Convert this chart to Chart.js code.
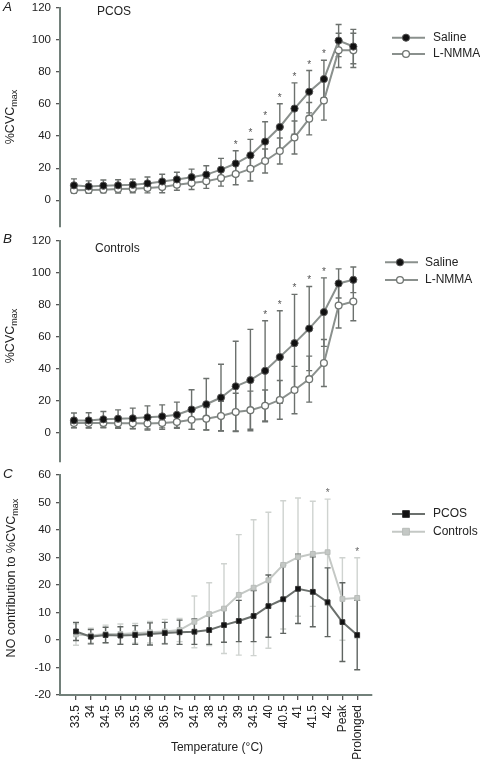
<!DOCTYPE html>
<html><head><meta charset="utf-8">
<script src="https://cdn.jsdelivr.net/npm/chart.js@4.4.0/dist/chart.umd.min.js"></script>
<style>
body{margin:0;background:#fff;width:480px;height:760px;overflow:hidden;position:relative;font-family:"Liberation Sans",Arial,sans-serif;color:#222;}
canvas{position:absolute;left:0;}
.t{position:absolute;white-space:nowrap;font-size:12px;line-height:1;}
.lt{position:absolute;white-space:nowrap;font-size:13.5px;font-style:italic;line-height:1;}
.yl{position:absolute;white-space:nowrap;font-size:12.5px;line-height:1;transform:translate(-50%,-50%) rotate(-90deg);}
.yl sub{font-size:9px;vertical-align:-3px;}
</style></head><body>
<canvas id="cA" width="480" height="245" style="top:-4px"></canvas>
<canvas id="cB" width="480" height="245" style="top:229px"></canvas>
<canvas id="cC" width="480" height="297" style="top:463px"></canvas>
<div class="lt" style="left:3px;top:0px">A</div>
<div class="lt" style="left:3px;top:232px">B</div>
<div class="lt" style="left:3px;top:467px">C</div>
<div class="t" style="left:97px;top:5px">PCOS</div>
<div class="t" style="left:95px;top:242px">Controls</div>
<div class="yl" style="left:11px;top:117px">%CVC<sub>max</sub></div>
<div class="yl" style="left:11px;top:336px">%CVC<sub>max</sub></div>
<div class="yl" style="left:12px;top:578px">NO contribution to %CVC<sub>max</sub></div>
<div class="t" style="left:217px;top:747px;transform:translate(-50%,-50%)">Temperature (°C)</div>
<script>
// ---- data ----
const categories = ['33.5','34','34.5','35','35.5','36','36.5','37','34.5','38','34.5','39','34.5','40','40.5','41','41.5','42','Peak','Prolonged'];

const pcosSaline    = [9.3,8.6,9.1,9.3,9.7,10.5,11.7,13,14.4,16,19.1,22.9,28,36.6,45.7,57.2,67.7,75.6,99.6,95.9];
const pcosSalineSE  = [4,3.5,3.5,3.5,3.5,4,4.5,4.5,5,5.5,7,8,10,12.4,14.5,16,13.2,11.7,10,10.7];
const pcosLNMMA     = [6.2,6.4,6.6,7,7.2,7.6,8.2,9.7,10.7,11.9,13.8,16.3,19.6,24.5,30.7,39.1,50.9,62.2,93.5,93.5];
const pcosLNMMASE   = [1.7,2,2,2.5,2.5,3,3.5,3.5,4,4.5,5,6.6,7.6,7.5,8.1,10.3,10.1,12.2,10.7,10.7];

const ctrlSaline    = [7.8,7.8,8.5,8.9,9.1,9.7,10.3,11.3,14.6,17.9,22.1,29.1,33,38.8,47.4,56.1,65.2,75.5,93.4,95.7];
const ctrlSalineSE  = [4.6,4.8,4.9,5.5,6.4,7.2,7.2,7.9,12.4,16.1,20.8,28.2,31.7,31.3,28.9,30.5,26.3,21.4,9.1,8];
const ctrlLNMMA     = [6.2,6.2,6.2,6,6,5.8,6.2,6.8,8.2,8.9,10.5,13,14.2,16.9,20.6,26.8,33.6,43.7,79.6,82.1];
const ctrlLNMMASE   = [2.9,2.9,3,3.2,3.5,4,4,4,6,7,9.3,11.8,11.9,9.9,12.1,14.8,14.4,14.7,14,12];

const noPCOS        = [3.1,1.2,1.8,1.6,1.8,2.2,2.5,2.8,3,3.6,5.4,6.9,8.7,12.3,14.8,18.6,17.5,13.7,6.5,1.8];
const noPCOSSE      = [3.3,2.6,2.8,3.2,3.4,4,3.9,4.4,4.6,5.2,6.2,7.5,9.3,11.3,12.4,12.6,12.7,12.5,14.3,12.6];
const noControls    = [2,1.6,2.2,2.2,2.4,2.8,3.1,3.6,6.6,9.4,11.4,16.4,19,21.7,27.3,30.1,31.3,31.9,14.9,15.3];
const noControlsSE  = [3.9,2.7,3.2,3.6,3.6,3.9,4.4,4.2,9.4,11.4,16.3,21.9,24.7,24.7,23.3,21.5,19.1,19.3,15,14.6];

const sigA = [11,12,13,14,15,16,17];
const sigB = [13,14,15,16,17];
const sigC = [17,19];

const yTicksAB = [0,20,40,60,80,100,120];
const yTicksC  = [-20,-10,0,10,20,30,40,50,60];

// ---- styling ----
const AXIS = '#72807a';
const FONT = '"Liberation Sans", Arial, sans-serif';
const pts = arr => arr.map((v,i)=>({x:i,y:v}));

const errorBars = {
  id:'errorBars',
  beforeDatasetsDraw(chart){
    const {ctx, scales:{x,y}} = chart;
    const sets = chart.data.datasets.slice().sort((a,b)=>(b.order||0)-(a.order||0));
    ctx.save();
    sets.forEach(d=>{
      if(!d.errors) return;
      ctx.strokeStyle = d.errorColor; ctx.lineWidth = 1.4;
      const cap = 3;
      d.errors.forEach((e,i)=>{
        const v = d.data[i].y;
        const px = x.getPixelForValue(i);
        const top = y.getPixelForValue(v+e), bot = y.getPixelForValue(v-e);
        ctx.beginPath();
        ctx.moveTo(px, top); ctx.lineTo(px, bot);
        ctx.moveTo(px-cap, top); ctx.lineTo(px+cap, top);
        ctx.moveTo(px-cap, bot); ctx.lineTo(px+cap, bot);
        ctx.stroke();
      });
    });
    ctx.restore();
  },
  afterDatasetsDraw(chart, args, opts){
    const {ctx, scales:{x,y}} = chart;
    ctx.save();
    // asterisks
    if(opts.sig){
      ctx.fillStyle = opts.sigColor || '#555';
      ctx.font = '10px ' + FONT;
      ctx.textAlign = 'center';
      ctx.textBaseline = 'alphabetic';
      opts.sig.forEach(i=>{
        let top = Infinity;
        chart.data.datasets.forEach(d=>{
          const v = d.data[i].y + (d.errors ? d.errors[i] : 0);
          top = Math.min(top, y.getPixelForValue(v));
        });
        ctx.fillText('*', x.getPixelForValue(i), top - 9 + 6);
      });
    }
    // legend
    if(opts.legend){
      const L = opts.legend;
      ctx.font = '12px ' + FONT;
      ctx.textAlign = 'left';
      ctx.textBaseline = 'middle';
      chart.data.datasets.forEach((d,k)=>{
        const yy = L.ys[k];
        ctx.strokeStyle = d.borderColor; ctx.lineWidth = 2;
        ctx.beginPath(); ctx.moveTo(L.x1, yy); ctx.lineTo(L.x2, yy); ctx.stroke();
        ctx.fillStyle = d.pointBackgroundColor; ctx.strokeStyle = d.pointBorderColor; ctx.lineWidth = d.pointBorderWidth;
        const r = d.pointRadius;
        ctx.beginPath();
        if(d.pointStyle === 'rect') ctx.rect(L.xm - r, yy - r, 2*r, 2*r);
        else ctx.arc(L.xm, yy, r, 0, Math.PI*2);
        ctx.fill(); ctx.stroke();
        ctx.fillStyle = '#222';
        ctx.fillText(d.label, L.xt, yy);
      });
    }
    ctx.restore();
  }
};

function yAxis(min, max, ticks, showTickMarks){
  return {
    type:'linear', min, max,
    afterFit(a){ a.width = 60; },
    afterBuildTicks(a){ a.ticks = ticks.map(v=>({value:v})); },
    border:{display:true, color:AXIS, width:2},
    grid:{display:true, drawOnChartArea:false, drawTicks:true, tickLength:4, color:'#555', lineWidth:1.3},
    ticks:{color:'#222', font:{family:FONT, size:11.5}, padding:5}
  };
}

function panelAB(id, saline, salineSE, lnmma, lnmmaSE, yMin, padBottom, sig, legend){
  return new Chart(document.getElementById(id), {
    type:'line',
    data:{datasets:[
      {label:'Saline', data:pts(saline), errors:salineSE, errorColor:'#6c716e',
       borderColor:'#8a908d', borderWidth:2, pointRadius:3.6, pointStyle:'circle',
       pointBackgroundColor:'#111', pointBorderColor:'#555', pointBorderWidth:1, tension:0, order:0},
      {label:'L-NMMA', data:pts(lnmma), errors:lnmmaSE, errorColor:'#6c716e',
       borderColor:'#8a908d', borderWidth:2, pointRadius:3.4, pointStyle:'circle',
       pointBackgroundColor:'#fff', pointBorderColor:'#6f7471', pointBorderWidth:1.3, tension:0, order:1}
    ]},
    options:{
      responsive:false, animation:false, devicePixelRatio:1,
      layout:{padding:{top:10, right:108, bottom:padBottom, left:0}},
      plugins:{legend:{display:false}, tooltip:{enabled:false},
        errorBars:{sig, legend}},
      scales:{
        x:{type:'linear', min:-0.95, max:20.27, display:false},
        y:yAxis(yMin, 120, yTicksAB)
      }
    },
    plugins:[errorBars]
  });
}

panelAB('cA', pcosSaline, pcosSalineSE, pcosLNMMA, pcosLNMMASE, -16.7, 14, sigA,
  {x1:392, x2:425, xm:406, xt:433, ys:[41.7, 58]});
panelAB('cB', ctrlSaline, ctrlSalineSE, ctrlLNMMA, ctrlLNMMASE, -18.2, 12, sigB,
  {x1:385, x2:418, xm:400, xt:425, ys:[33.3, 51]});

new Chart(document.getElementById('cC'), {
  type:'line',
  data:{datasets:[
    {label:'PCOS', data:pts(noPCOS), errors:noPCOSSE, errorColor:'#5f6461',
     borderColor:'#6b706d', borderWidth:2, pointRadius:3.4, pointStyle:'rect',
     pointBackgroundColor:'#111', pointBorderColor:'#333', pointBorderWidth:1, tension:0, order:0},
    {label:'Controls', data:pts(noControls), errors:noControlsSE, errorColor:'#cfd3d0',
     borderColor:'#c4c8c5', borderWidth:2, pointRadius:3.4, pointStyle:'rect',
     pointBackgroundColor:'#c4c8c5', pointBorderColor:'#b8bcb9', pointBorderWidth:1, tension:0, order:1}
  ]},
  options:{
    responsive:false, animation:false, devicePixelRatio:1,
    layout:{padding:{top:10, right:108, bottom:0, left:0}},
    plugins:{legend:{display:false}, tooltip:{enabled:false},
      errorBars:{sig:sigC, sigColor:'#666', legend:{x1:392, x2:425, xm:406, xt:433, ys:[51, 68.7]}}},
    scales:{
      x:{type:'linear', min:-1.08, max:20.0,
        afterFit(a){ a.height = 65; },
        afterBuildTicks(a){ a.ticks = categories.map((c,i)=>({value:i})); },
        border:{display:true, color:AXIS, width:2},
        grid:{display:true, drawOnChartArea:false, drawTicks:true, tickLength:5, color:'#555', lineWidth:1.3},
        ticks:{autoSkip:false, minRotation:90, maxRotation:90, padding:5, color:'#222',
          font:{family:FONT, size:12}, callback:(v)=>categories[v]}
      },
      y:yAxis(-20, 60, yTicksC)
    }
  },
  plugins:[errorBars]
});
</script>
</body></html>
